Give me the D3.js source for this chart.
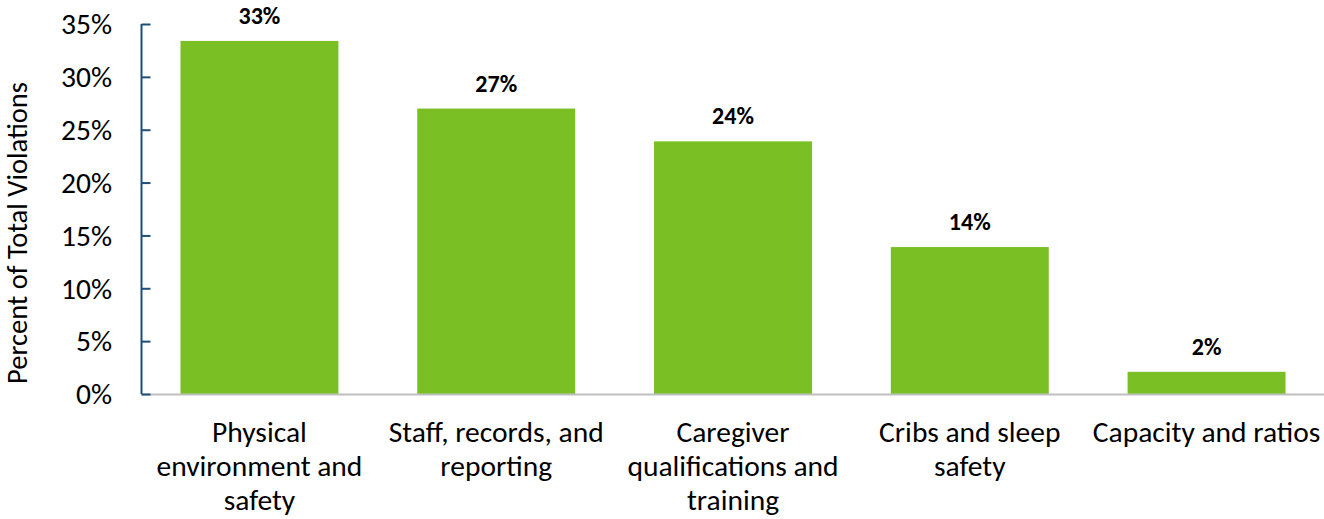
<!DOCTYPE html>
<html>
<head>
<meta charset="utf-8">
<script src="https://cdn.jsdelivr.net/npm/d3@7"></script>
<style>
  body { margin: 0; background: #fff; }
  svg text { font-family: Carlito, Calibri, "Open Sans", sans-serif; fill: #000; }
</style>
</head>
<body>
<svg id="chart" width="1324" height="519"></svg>
<script>
//Chart data
const categories = [
  ["Physical", "environment and", "safety"],
  ["Staff, records, and", "reporting"],
  ["Caregiver", "qualifications and", "training"],
  ["Cribs and sleep", "safety"],
  ["Capacity and ratios"]
];
const values = [33.4, 27.0, 23.9, 13.9, 2.1];
const valueLabels = ["33%", "27%", "24%", "14%", "2%"];
const yTicks = [0, 5, 10, 15, 20, 25, 30, 35];

const svg = d3.select("#chart");
const plotLeft = 141, plotRight = 1325, plotTop = 24, plotBottom = 394;

//Scales
const x = d3.scaleBand()
  .domain(d3.range(categories.length))
  .range([plotLeft, plotRight])
  .paddingInner(0.333)
  .paddingOuter(0.1667);
const y = d3.scaleLinear().domain([0, 35]).range([plotBottom, plotTop]);

//Bars
svg.append("g")
  .selectAll("rect")
  .data(values)
  .join("rect")
  .attr("x", (d, i) => x(i))
  .attr("y", (d) => y(d))
  .attr("width", x.bandwidth())
  .attr("height", (d) => y(0) - y(d))
  .attr("fill", "#7abf24");

//X axis line (grey)
svg.append("line")
  .attr("x1", plotLeft).attr("x2", plotRight)
  .attr("y1", plotBottom + 0.5).attr("y2", plotBottom + 0.5)
  .attr("stroke", "#bfbfbf").attr("stroke-width", 2);

//Y axis, ticks pointing inside
const yAxis = svg.append("g")
  .attr("transform", `translate(${plotLeft + 0.5},0)`)
  .call(d3.axisRight(y).tickValues(yTicks).tickSize(9).tickFormat(""));
yAxis.selectAll("path, line").attr("stroke", "#1f4e79").attr("stroke-width", 2);
yAxis.select(".domain").attr("d", `M0,${plotTop}V${plotBottom}`);

//Tick labels
svg.append("g")
  .selectAll("text")
  .data(yTicks)
  .join("text")
  .attr("x", 112)
  .attr("y", (d) => y(d))
  .attr("dy", "0.35em")
  .attr("text-anchor", "end")
  .style("font-size", "29.5px")
  .text((d) => d + "%");

//Y axis title
svg.append("text")
  .attr("transform", "translate(27,233) rotate(-90)")
  .attr("text-anchor", "middle")
  .style("font-size", "28.5px")
  .text("Percent of Total Violations");

//Value labels
svg.append("g")
  .selectAll("text")
  .data(values)
  .join("text")
  .attr("x", (d, i) => x(i) + x.bandwidth() / 2)
  .attr("y", (d) => y(d) - 17)
  .attr("text-anchor", "middle")
  .style("font-size", "24px")
  .style("font-weight", "bold")
  .text((d, i) => valueLabels[i]);

//Category labels
const cat = svg.append("g")
  .selectAll("text")
  .data(categories)
  .join("text")
  .attr("x", (d, i) => x(i) + x.bandwidth() / 2)
  .attr("y", 442)
  .attr("text-anchor", "middle")
  .style("font-size", "29.5px");
cat.selectAll("tspan")
  .data((d) => d)
  .join("tspan")
  .attr("x", function () { return d3.select(this.parentNode).attr("x"); })
  .attr("dy", (d, j) => (j === 0 ? 0 : 34))
  .text((d) => d);
</script>
</body>
</html>
